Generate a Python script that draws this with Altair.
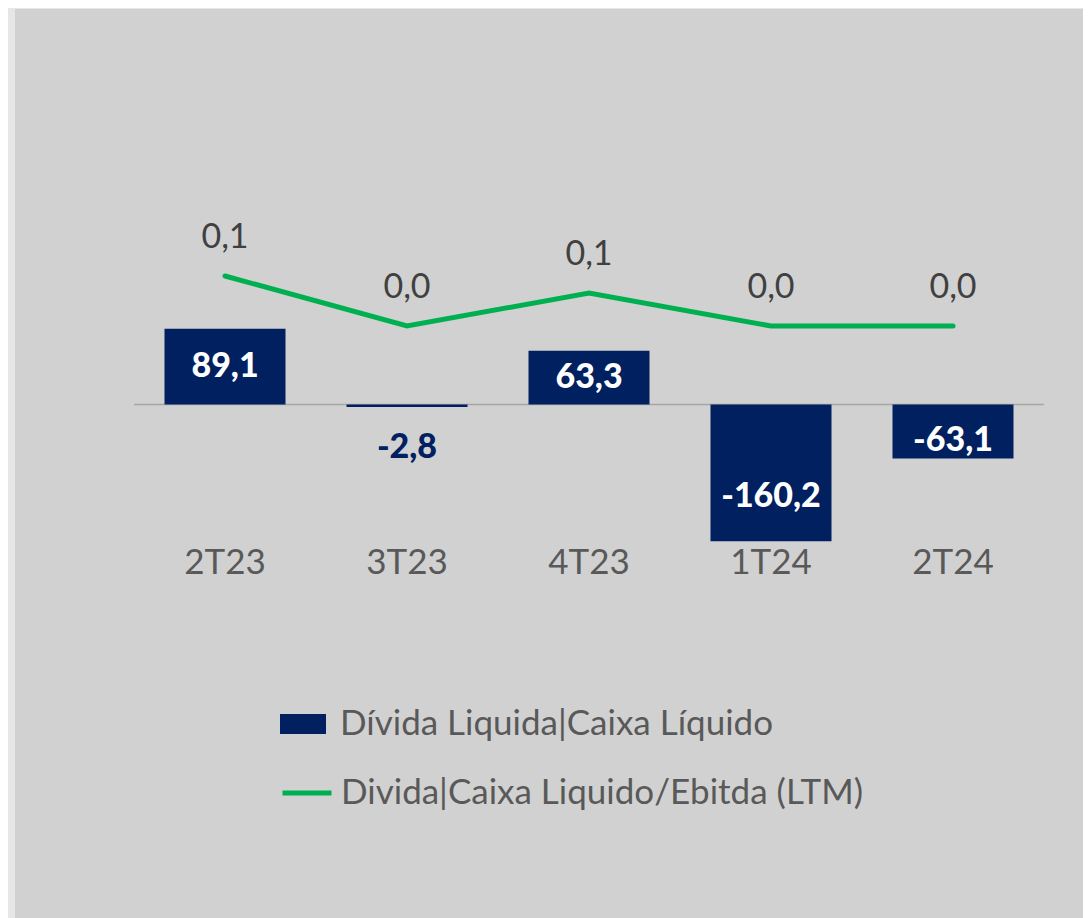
import altair as alt
import pandas as pd

# ---- data ----
quarters = ["2T23", "3T23", "4T23", "1T24", "2T24"]
net_debt = [89.1, -2.8, 63.3, -160.2, -63.1]
leverage = [0.10, 0.0, 0.066, 0.0, 0.0]
series_bar = "Dívida Liquida|Caixa Líquido"
series_line = "Divida|Caixa Liquido/Ebitda (LTM)"

def fmt(v):
    return f"{v:.1f}".replace(".", ",")

df = pd.DataFrame({
    "q": quarters,
    "v": net_debt,
    "lev": leverage,
    "vlab": [fmt(v) for v in net_debt],
    "levlab": [fmt(v) for v in leverage],
    "s1": series_bar,
    "s2": series_line,
})

NAVY = "#002060"
GREEN = "#00b050"
FONT = "Lato"

W, H = 910, 341

BAR_DOM = [-160, 240]
LINE_DOM = [-0.43, 0.252]

x_enc = alt.X("q:N", sort=quarters,
              scale=alt.Scale(paddingInner=0.335, paddingOuter=0.1675),
              axis=alt.Axis(title=None, domain=False, ticks=False, labelAngle=0,
                            labelFont=FONT, labelFontSize=35, labelColor="#595959",
                            labelPadding=4, zindex=2))
x_plain = alt.X("q:N", sort=quarters)

def ybar(field):
    return alt.Y(field, scale=alt.Scale(domain=BAR_DOM, nice=False, zero=False), axis=None)

base = alt.Chart(df)

panel = base.transform_filter("datum.q == '2T23'").mark_rect(color="#d1d1d1").encode(
    x=alt.value(-119), x2=alt.value(949), y=alt.value(-191), y2=alt.value(718)
)

bars = base.mark_bar(size=121).encode(
    x=x_enc,
    y=ybar("v:Q"),
    color=alt.Color("s1:N", scale=alt.Scale(domain=[series_bar], range=[NAVY]),
                    legend=alt.Legend(title=None, orient="none", legendX=146, legendY=501,
                                      labelFont=FONT, labelFontSize=35, labelColor="#595959",
                                      labelLimit=0,
                                      symbolType="M-1,-0.43H1V0.43H-1Z", symbolSize=2116,
                                      symbolStrokeWidth=0, labelOffset=14)),
)

zero = base.transform_filter("datum.q == '2T23'").mark_rule(color="#a6a6a6", strokeWidth=1.5).encode(
    y=alt.Y(datum=0, scale=alt.Scale(domain=BAR_DOM, nice=False, zero=False), axis=None)
)

inside = base.transform_filter("abs(datum.v) >= 10").transform_calculate(
    pos="datum.v > 0 ? datum.v * 0.5 : datum.v * 0.68"
).mark_text(font=FONT, fontSize=34, fontWeight=900, color="white", baseline="middle").encode(
    x=x_plain, y=ybar("pos:Q"), text="vlab:N")

outside = base.transform_filter("abs(datum.v) < 10").mark_text(
    font=FONT, fontSize=34, fontWeight=900, color=NAVY, baseline="middle", dy=41
).encode(x=x_plain, y=ybar("v:Q"), text="vlab:N")

y_line = alt.Y("lev:Q", scale=alt.Scale(domain=LINE_DOM, nice=False, zero=False), axis=None)

line = base.mark_line(strokeWidth=5, strokeCap="round").encode(
    x=x_plain,
    y=y_line,
    stroke=alt.Stroke("s2:N", scale=alt.Scale(domain=[series_line], range=[GREEN]),
                      legend=alt.Legend(title=None, orient="none", legendX=146, legendY=566,
                                        labelFont=FONT, labelFontSize=35, labelColor="#595959",
                                        labelLimit=0,
                                        symbolType="stroke", symbolSize=2401,
                                        symbolStrokeWidth=5, labelOffset=7)),
)

line_labels = base.mark_text(font=FONT, fontSize=34, color="#404040", baseline="middle", dy=-38).encode(
    x=x_plain, y=y_line, text="levlab:N")

chart = alt.layer(panel, zero, bars, inside, outside, line, line_labels).resolve_scale(
    y="independent"
).properties(
    width=W, height=H, background="#e6e6e6",
    padding={"left": 7, "top": 1, "right": 0, "bottom": 0},
).configure_view(stroke=None)

chart.save("out.html", embed_options={"renderer": "svg", "actions": False})
